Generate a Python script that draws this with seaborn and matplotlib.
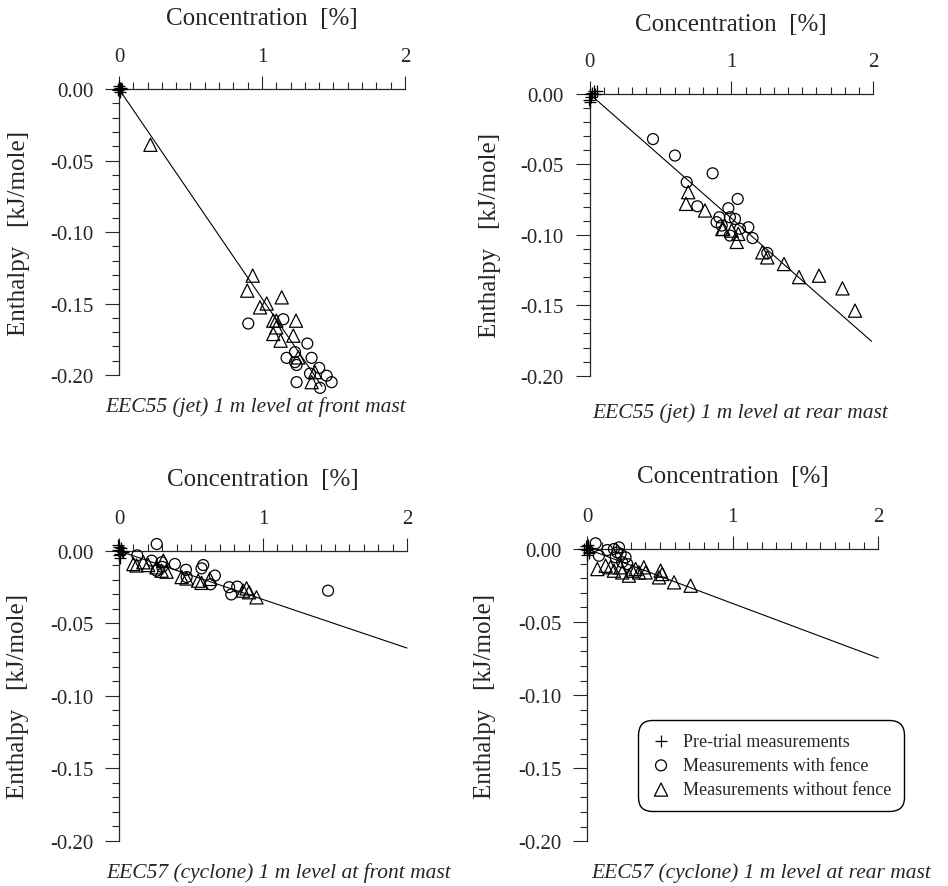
import pandas as pd
import seaborn as sns
import matplotlib.pyplot as plt
from matplotlib.ticker import MultipleLocator, FormatStrFormatter

# EEC55 (jet) front mast
f55_pre_x = [0.0, 0.01, -0.01, 0.02, 0.005, 0.015, 0.0, -0.005]
f55_pre_y = [0.0, 0.001, -0.001, 0.0, -0.002, 0.001, 0.002, 0.0]
f55_fence_x = [0.904, 1.149, 1.317, 1.172, 1.231, 1.231, 1.242, 1.347, 1.242,
               1.40, 1.336, 1.452, 1.487, 1.406]
f55_fence_y = [-0.164, -0.161, -0.178, -0.188, -0.184, -0.191, -0.193, -0.188,
               -0.205, -0.195, -0.199, -0.2005, -0.205, -0.209]
f55_open_x = [0.22, 0.935, 0.897, 1.138, 0.986, 1.033, 1.079, 1.10, 1.238, 1.10,
              1.079, 1.219, 1.13, 1.254, 1.347, 1.37]
f55_open_y = [-0.039, -0.1305, -0.141, -0.1457, -0.1527, -0.150, -0.162, -0.162,
              -0.162, -0.1667, -0.1713, -0.1725, -0.176, -0.1877, -0.205, -0.198]
f55_fit_x = [0.0, 1.42]
f55_fit_y = [0.0, -0.208]

# EEC55 (jet) rear mast
r55_pre_x = [0.0, 0.03, 0.05, -0.005, 0.0, 0.02, 0.04, 0.01]
r55_pre_y = [0.0, 0.002, 0.002, -0.004, -0.006, 0.001, 0.0, -0.002]
r55_fence_x = [0.447, 0.602, 0.868, 0.685, 1.045, 0.760, 0.979, 0.915, 0.99,
               1.026, 0.896, 0.932, 1.12, 0.99, 1.15, 1.061, 1.254]
r55_fence_y = [-0.032, -0.0437, -0.0563, -0.0626, -0.0745, -0.0797, -0.0811,
               -0.0875, -0.0875, -0.0887, -0.091, -0.0934, -0.0946, -0.1005,
               -0.1023, -0.0957, -0.1129]
r55_open_x = [0.696, 0.68, 0.814, 0.943, 1.002, 1.049, 1.038, 1.219, 1.254,
              1.372, 1.478, 1.619, 1.784, 1.873, 0.936]
r55_open_y = [-0.0697, -0.078, -0.0827, -0.0957, -0.097, -0.0993, -0.105,
              -0.1124, -0.116, -0.1207, -0.130, -0.129, -0.138, -0.1538, -0.0959]
r55_fit_x = [0.0, 1.99]
r55_fit_y = [0.0, -0.1756]

# EEC57 (cyclone) front mast
f57_pre_x = [0.0, 0.01, -0.01, 0.02, 0.005, 0.015, 0.0, 0.025, -0.005, 0.01]
f57_pre_y = [0.003, -0.002, 0.001, 0.0, -0.005, 0.002, -0.003, -0.001, 0.004, 0.0]
f57_fence_x = [0.262, 0.127, 0.227, 0.261, 0.296, 0.388, 0.465, 0.585, 0.573,
               0.666, 0.636, 0.765, 0.821, 0.78, 1.452, 0.47, 0.3]
f57_fence_y = [0.0048, -0.003, -0.0067, -0.0136, -0.0078, -0.009, -0.013,
               -0.0097, -0.012, -0.017, -0.023, -0.025, -0.0246, -0.030,
               -0.0274, -0.018, -0.011]
f57_open_x = [0.1, 0.122, 0.169, 0.203, 0.308, 0.296, 0.33, 0.26, 0.435, 0.469,
              0.55, 0.573, 0.631, 0.862, 0.886, 0.904, 0.955]
f57_open_y = [-0.009, -0.010, -0.0078, -0.0097, -0.0067, -0.0136, -0.0143,
              -0.0113, -0.018, -0.019, -0.0205, -0.022, -0.0193, -0.0274,
              -0.0258, -0.0285, -0.032]
f57_fit_x = [0.0, 2.0]
f57_fit_y = [0.0, -0.067]

# EEC57 (cyclone) rear mast
r57_pre_x = [0.0, -0.01, 0.01, -0.02, 0.02, 0.0, 0.005, -0.005, 0.015]
r57_pre_y = [0.0, 0.002, -0.002, 0.0, 0.001, -0.004, 0.003, -0.001, -0.003]
r57_fence_x = [0.057, 0.08, 0.137, 0.183, 0.206, 0.229, 0.195, 0.263, 0.218,
               0.24, 0.275]
r57_fence_y = [0.0039, -0.0046, -0.0007, 0.0, -0.0023, -0.0034, -0.0057,
               -0.0057, 0.0011, -0.009, -0.0103]
r57_open_x = [0.069, 0.16, 0.183, 0.229, 0.24, 0.286, 0.332, 0.355, 0.389,
              0.401, 0.504, 0.515, 0.493, 0.596, 0.71, 0.126, 0.309]
r57_open_y = [-0.0137, -0.0125, -0.0148, -0.0125, -0.016, -0.0182, -0.0137,
              -0.016, -0.0125, -0.016, -0.0148, -0.0171, -0.0194, -0.0228,
              -0.0251, -0.0114, -0.0148]
r57_fit_x = [0.0, 2.0]
r57_fit_y = [0.0, -0.0746]

KINDS = ['Pre-trial measurements', 'Measurements with fence',
         'Measurements without fence']
MARKERS = {KINDS[0]: ('+', 80), KINDS[1]: ('o', 62), KINDS[2]: ('^', 90)}


def make_frame(pre_x, pre_y, fence_x, fence_y, open_x, open_y):
    parts = []
    for kind, xs, ys in zip(KINDS, [pre_x, fence_x, open_x], [pre_y, fence_y, open_y]):
        parts.append(pd.DataFrame({'conc': xs, 'enth': ys, 'kind': kind}))
    return pd.concat(parts, ignore_index=True)


def draw_panel(ax, df, fit_x, fit_y, caption, cap_x, cap_y, legend=False):
    sns.lineplot(x=fit_x, y=fit_y, ax=ax, color='black', lw=0.8, clip_on=False)
    for kind in KINDS:
        marker, size = MARKERS[kind]
        sub = df[df['kind'] == kind]
        sns.scatterplot(data=sub, x='conc', y='enth', marker=marker, s=size,
                        color='black', linewidth=0.9, ax=ax, label=kind,
                        clip_on=False, zorder=3, legend=False)
        if marker != '+':
            ax.collections[-1].set_facecolor('none')
            ax.collections[-1].set_edgecolor('black')

    ax.set_xlim(0, 2)
    ax.set_ylim(-0.2, 0)
    ax.xaxis.tick_top()
    for side in ['right', 'bottom']:
        ax.spines[side].set_visible(False)
    for side in ['left', 'top']:
        ax.spines[side].set_linewidth(0.9)
    ax.xaxis.set_major_locator(MultipleLocator(1))
    ax.xaxis.set_minor_locator(MultipleLocator(0.1))
    ax.yaxis.set_major_locator(MultipleLocator(0.05))
    ax.yaxis.set_minor_locator(MultipleLocator(0.01))
    ax.yaxis.set_major_formatter(FormatStrFormatter('%.2f'))
    ax.tick_params(axis='x', which='major', direction='out', length=9.5,
                   width=0.8, pad=7, labelsize=15)
    ax.tick_params(axis='y', which='major', direction='out', length=10,
                   width=0.8, pad=8.5, labelsize=15)
    ax.tick_params(which='minor', direction='out', length=5, width=0.8)
    ax.set_xlabel('')
    ax.set_ylabel('Enthalpy   [kJ/mole]', fontsize=18)
    ax.yaxis.set_label_coords(-0.312, 0.5)
    ax.text(0.5, 1.25, 'Concentration  [%]', transform=ax.transAxes,
            ha='center', va='center', fontsize=18)
    ax.text(cap_x, cap_y, caption, transform=ax.transAxes, ha='left',
            va='center', fontsize=15.5, style='italic')

    if legend:
        leg = ax.legend(loc='center', bbox_to_anchor=(0.185, 0.11, 0.89, 0.298),
                        fontsize=13, frameon=True, fancybox=True,
                        edgecolor='black', framealpha=1, borderpad=0.7,
                        labelspacing=0.4, handletextpad=0.6, handlelength=1.2)
        leg.get_frame().set_linewidth(1.0)
        leg.get_frame().set_boxstyle('round,pad=0,rounding_size=0.8')
    elif ax.get_legend() is not None:
        ax.get_legend().remove()


sns.set_style('ticks')
plt.rcParams['font.family'] = ['Liberation Serif', 'DejaVu Serif']
plt.rcParams['axes.unicode_minus'] = False

fig = plt.figure(figsize=(9.48, 8.87), dpi=100)

ax1 = fig.add_axes([0.1255, 0.5761, 0.3017, 0.3224])
ax2 = fig.add_axes([0.6220, 0.5753, 0.2989, 0.3176])
ax3 = fig.add_axes([0.1255, 0.0511, 0.3038, 0.3266])
ax4 = fig.add_axes([0.6195, 0.0504, 0.3070, 0.3295])

draw_panel(ax1, make_frame(f55_pre_x, f55_pre_y, f55_fence_x, f55_fence_y,
                           f55_open_x, f55_open_y),
           f55_fit_x, f55_fit_y, 'EEC55 (jet) 1 m level at front mast',
           -0.049, -0.108)
draw_panel(ax2, make_frame(r55_pre_x, r55_pre_y, r55_fence_x, r55_fence_y,
                           r55_open_x, r55_open_y),
           r55_fit_x, r55_fit_y, 'EEC55 (jet) 1 m level at rear mast',
           0.008, -0.128)
draw_panel(ax3, make_frame(f57_pre_x, f57_pre_y, f57_fence_x, f57_fence_y,
                           f57_open_x, f57_open_y),
           f57_fit_x, f57_fit_y, 'EEC57 (cyclone) 1 m level at front mast',
           -0.045, -0.107)
draw_panel(ax4, make_frame(r57_pre_x, r57_pre_y, r57_fence_x, r57_fence_y,
                           r57_open_x, r57_open_y),
           r57_fit_x, r57_fit_y, 'EEC57 (cyclone) 1 m level at rear mast',
           0.012, -0.106, legend=True)

fig.savefig('out.png', dpi=100)
